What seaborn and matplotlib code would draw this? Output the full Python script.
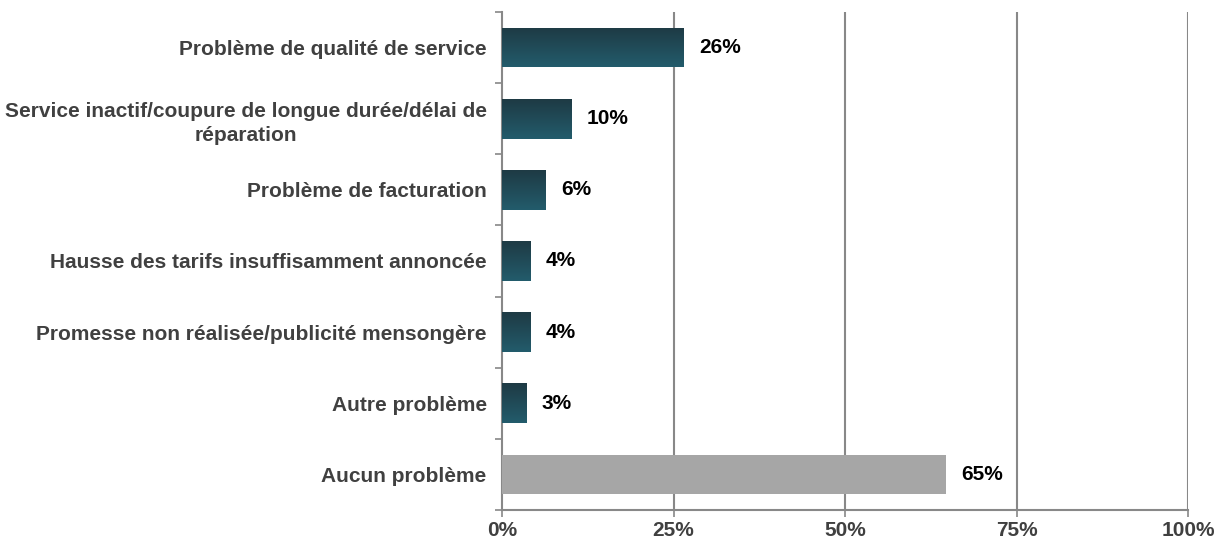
import numpy as np
import pandas as pd
import matplotlib
matplotlib.use("Agg")
import matplotlib.pyplot as plt
import seaborn as sns
from matplotlib.colors import LinearSegmentedColormap

# Data
categories = [
    "Problème de qualité de service",
    "Service inactif/coupure de longue durée/délai de\nréparation",
    "Problème de facturation",
    "Hausse des tarifs insuffisamment annoncée",
    "Promesse non réalisée/publicité mensongère",
    "Autre problème",
    "Aucun problème",
]
values = [26.5, 10.2, 6.4, 4.1, 4.2, 3.5, 64.7]
value_labels = ["26%", "10%", "6%", "4%", "4%", "3%", "65%"]
xticks = [0, 25, 50, 75, 100]

df = pd.DataFrame({"cat": categories, "val": values})

sns.set_style("white")
plt.rcParams["font.family"] = ["Liberation Sans", "DejaVu Sans"]

fig = plt.figure(figsize=(12.18, 5.43), dpi=100)
ax = fig.add_axes([502 / 1218, 33 / 543, 686 / 1218, 498 / 543])

palette = ["#214b57"] * 6 + ["#a6a6a6"]
sns.barplot(data=df, x="val", y="cat", hue="cat", palette=palette, legend=False,
            width=0.56, ax=ax, zorder=3, linewidth=0)

# gradient fill on the teal bars
cmap = LinearSegmentedColormap.from_list("teal", ["#1e3a44", "#235c6c"])
grad = np.linspace(0, 1, 256).reshape(-1, 1)
for i, p in enumerate(ax.patches):
    if i == len(ax.patches) - 1:
        continue
    x0, y0 = p.get_x(), p.get_y()
    w, h = p.get_width(), p.get_height()
    p.set_facecolor("none")
    im = ax.imshow(grad, cmap=cmap, aspect="auto", extent=[x0, x0 + w, y0 + h, y0],
                   origin="upper", zorder=3)
    im.set_clip_path(p)

ax.set_xlim(0, 100)
ax.set_ylim(6.5, -0.5)
ax.set_xticks(xticks)
ax.set_xticklabels([f"{t}%" for t in xticks], fontsize=15, fontweight="bold", color="#404040")
ax.set_yticks(range(len(categories)))
ax.set_yticklabels(categories, fontsize=15, fontweight="bold", color="#404040",
                   multialignment="center", linespacing=1.35)
ax.set_xlabel("")
ax.set_ylabel("")

# category separator ticks on the y axis
ax.set_yticks(np.arange(-0.5, 7, 1), minor=True)
ax.tick_params(axis="y", which="major", length=0, pad=11)
ax.tick_params(axis="y", which="minor", length=5, width=1.2, color="#888888", direction="out", left=True)
ax.tick_params(axis="x", length=5, width=1.2, color="#888888", direction="out", bottom=True, pad=3)

for x in xticks[1:]:
    ax.axvline(x, color="#888888", lw=1.5, zorder=1)

for s in ["top", "right"]:
    ax.spines[s].set_visible(False)
for s in ["left", "bottom"]:
    ax.spines[s].set_color("#888888")
    ax.spines[s].set_linewidth(1.5)

for i, (v, lab) in enumerate(zip(values, value_labels)):
    ax.text(v + 2.2, i, lab, va="center", ha="left", fontsize=15, fontweight="bold", color="black")

fig.savefig("out.png", dpi=100)
